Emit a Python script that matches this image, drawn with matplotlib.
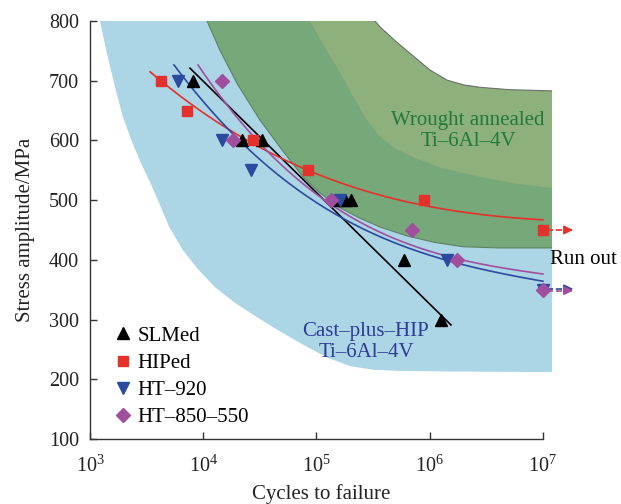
import numpy as np
import matplotlib
matplotlib.use("Agg")
import matplotlib.pyplot as plt
from matplotlib.ticker import FixedLocator, FuncFormatter, NullLocator

plt.rcParams['font.family'] = ['Liberation Serif', 'DejaVu Serif']
plt.rcParams['mathtext.fontset'] = 'custom'
plt.rcParams['mathtext.rm'] = 'Liberation Serif'

# ---------------- data ----------------
slm_N = [8.1e3, 2.2e4, 3.3e4, 1.58e5, 1.79e5, 2.02e5, 5.9e5, 1.26e6]
slm_S = [700, 600, 600, 500, 500, 500, 400, 300]
hip_N = [4.2e3, 7.2e3, 2.75e4, 8.4e4, 8.9e5, 1.0e7]
hip_S = [700, 650, 600, 550, 500, 450]
ht920_N = [6.0e3, 1.47e4, 2.64e4, 1.6e5, 1.42e6, 1.0e7]
ht920_S = [700, 600, 550, 500, 400, 350]
ht850_N = [1.47e4, 1.83e4, 1.34e5, 7.0e5, 1.74e6, 1.0e7]
ht850_S = [700, 600, 500, 450, 400, 350]

# trend lines (log10 N vs S)
slm_fit_logN = [3.883, 6.188]
slm_fit_S = [721, 291]
hip_fit_logN = [3.530, 4.925, 5.649, 6.294, 7.0]
hip_fit_S = [715, 550, 504, 480, 467]
ht920_fit_logN = [3.742, 4.174, 5.207, 5.561, 6.152, 7.0]
ht920_fit_S = [726, 629, 472, 438, 400, 364]
ht850_fit_logN = [3.954, 4.475, 5.207, 5.561, 6.241, 7.0]
ht850_fit_S = [726, 601, 483, 445, 403, 376]

# scatter bands (log10 N, S)
cast_low_logN = [3.088, 3.15, 3.22, 3.291, 3.37, 3.45, 3.53, 3.600, 3.70, 3.821, 3.95, 4.10, 4.28, 4.475, 4.68, 4.90, 5.10, 5.296, 5.50, 5.737, 6.2, 7.08]
cast_low_S = [800, 745, 690, 639, 598, 562, 530, 500, 455, 416, 385, 355, 328, 304, 280, 256, 236, 222, 216, 214, 213, 212]
wr_low_logN = [4.033, 4.15, 4.30, 4.501, 4.70, 4.881, 5.03, 5.20, 5.38, 5.561, 5.80, 6.05, 6.294, 6.6, 7.08]
wr_low_S = [800, 750, 695, 634, 583, 539, 512, 488, 470, 455, 440, 429, 422, 420, 420]
wr_up_logN = [5.517, 5.561, 5.70, 5.85, 6.002, 6.152, 6.30, 6.444, 6.7, 7.08]
wr_up_S = [800, 790, 766, 742, 718, 701, 693, 689, 685, 683]
wr_in_logN = [4.943, 5.06, 5.181, 5.31, 5.446, 5.561, 5.70, 5.852, 6.10, 6.444, 6.75, 7.08]
wr_in_S = [800, 760, 723, 678, 634, 606, 586, 572, 554, 539, 528, 520]

runout_S = [450, 350, 350]

xticks = [1e3, 1e4, 1e5, 1e6, 1e7]
yticks = [100, 200, 300, 400, 500, 600, 700, 800]

# ---------------- colours ----------------
c_blue_band = '#acd6e5'
c_green = '#77a87a'
c_olive = '#8eb07c'
c_red = '#e5312b'
c_blue = '#2c4aa0'
c_purple = '#a04f9f'

fig = plt.figure(figsize=(6.21, 5.04), dpi=100)
ax = fig.add_axes([90/621, 1-439/504, (552-90)/621, (439-21)/504])
ax.set_xscale('log')
xmax = 10**7.08
ax.set_xlim(1e3, xmax)
ax.set_ylim(100, 800)

def P(l):
    return [10**v for v in l]

# cast-plus-HIP band
bx = P(cast_low_logN) + P(wr_low_logN[::-1])
by = cast_low_S + wr_low_S[::-1]
ax.fill(bx, by, color=c_blue_band, lw=0, zorder=0)
# wrought band (outer)
gx = P(wr_low_logN) + P(wr_up_logN[::-1])
gy = wr_low_S + wr_up_S[::-1]
ax.fill(gx, gy, color=c_green, lw=0, zorder=0.5)
ax.fill(P(wr_in_logN) + P(wr_up_logN[::-1]), wr_in_S + wr_up_S[::-1],
        color=c_olive, lw=0, zorder=0.6)
ax.plot(P(wr_low_logN), wr_low_S, color='#5f7f63', lw=0.8, zorder=0.7)
ax.plot(P(wr_up_logN), wr_up_S, color='#6f6f6f', lw=0.8, zorder=0.7)

# trend lines
ax.plot(P(slm_fit_logN), slm_fit_S, color='black', lw=1.2, zorder=2)
for lx, ly, c in [(hip_fit_logN, hip_fit_S, c_red),
                  (ht920_fit_logN, ht920_fit_S, c_blue),
                  (ht850_fit_logN, ht850_fit_S, c_purple)]:
    coef = np.polyfit(lx, ly, 3)
    u = np.linspace(lx[0], lx[-1], 200)
    ax.plot(10**u, np.polyval(coef, u), color=c, lw=1.2, zorder=2)

# markers
ax.plot(slm_N, slm_S, '^', color='black', ms=8.5, ls='none', zorder=3, label='SLMed')
ax.plot(hip_N, hip_S, 's', color=c_red, ms=7, ls='none', zorder=3, label='HIPed')
ax.plot(ht920_N, ht920_S, 'v', color=c_blue, ms=8.5, ls='none', zorder=3, label='HT\u2013920')
ax.plot(ht850_N, ht850_S, 'D', color=c_purple, ms=7.5, ls='none', zorder=3, label='HT\u2013850\u2013550')

# run-out arrows
for S, c, dy in [(runout_S[0], c_red, 0), (runout_S[1], c_blue, 1.5), (runout_S[2], c_purple, -1.5)]:
    ax.plot([1.08e7, 1.72e7], [S + dy, S + dy], ls='--', color=c, lw=1.2, clip_on=False, zorder=2.5)
    ax.annotate('', xy=(1.95e7, S + dy), xytext=(1.65e7, S + dy),
                arrowprops=dict(arrowstyle='-|>', color=c, lw=1.2, mutation_scale=13),
                annotation_clip=False, zorder=2.5)

# texts
ax.text(10**6.338, 616, 'Wrought annealed\nTi\u20136Al\u20134V', color='#1f7a3c', fontsize=15,
        ha='center', va='center', linespacing=1.15, zorder=4)
ax.text(10**5.437, 262, 'Cast\u2013plus\u2013HIP\nTi\u20136Al\u20134V', color='#2e3a97', fontsize=15,
        ha='center', va='center', linespacing=1.15, zorder=4)
ax.text(10**7.06, 400, 'Run out', color='black', fontsize=15, ha='left', va='center', zorder=4)

# axes styling
for s in ['top', 'right']:
    ax.spines[s].set_visible(False)
ax.spines['bottom'].set_bounds(1e3, 1e7)
for s in ['left', 'bottom']:
    ax.spines[s].set_color('#333333')
    ax.spines[s].set_linewidth(1.0)
ax.xaxis.set_major_locator(FixedLocator(xticks))
ax.xaxis.set_minor_locator(NullLocator())
ax.xaxis.set_major_formatter(FuncFormatter(lambda v, p: r'$\mathregular{10^{%d}}$' % round(np.log10(v))))
ax.set_yticks(yticks)
ax.tick_params(direction='in', length=5, width=1, colors='#333333', labelcolor='#222222',
               labelsize=14.5)
ax.tick_params(axis='x', pad=12)
ax.tick_params(axis='y', pad=8)
ax.set_xlabel('Cycles to failure', fontsize=15, color='#222222', labelpad=5)
ax.set_ylabel('Stress amplitude/MPa', fontsize=15, color='#222222', labelpad=10)

leg = ax.legend(loc='upper left', bbox_to_anchor=(0.054, 0.270), frameon=False, fontsize=15,
                handlelength=0.8, handletextpad=0.3, labelspacing=0.36, borderpad=0,
                borderaxespad=0)

fig.savefig('out.png', dpi=100)
